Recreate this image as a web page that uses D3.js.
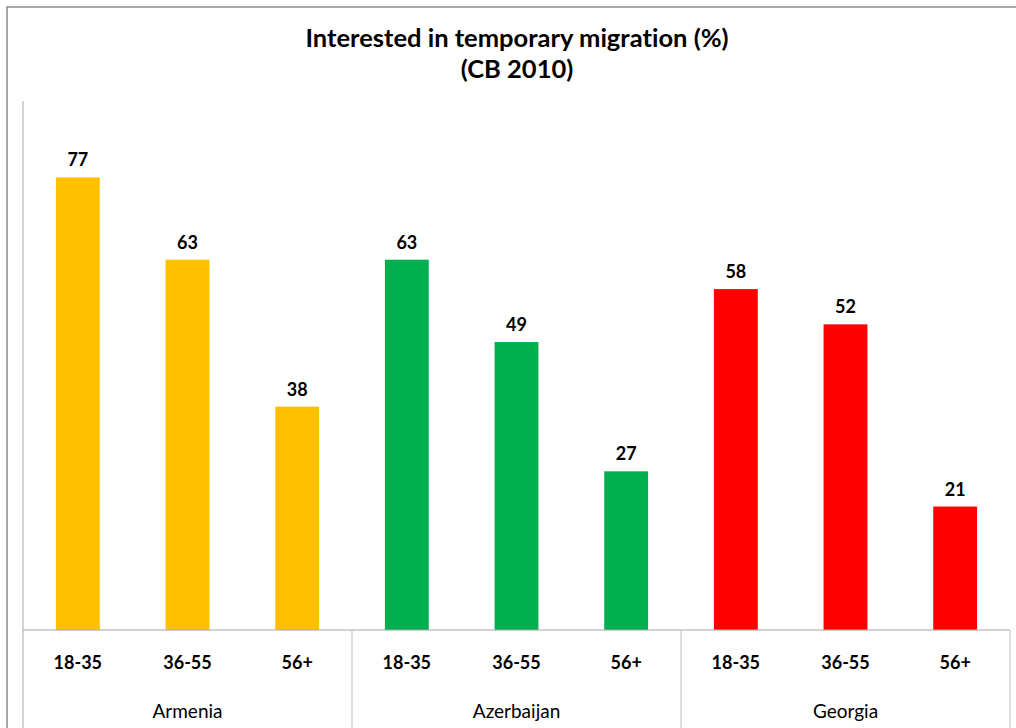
<!DOCTYPE html>
<html>
<head>
<meta charset="utf-8">
<script src="https://cdn.jsdelivr.net/npm/d3@7/dist/d3.min.js"></script>
<style>
  html, body { margin: 0; padding: 0; background: #fff; }
  svg { display: block; font-family: Lato, "Open Sans", sans-serif; font-variant-ligatures: none; }
</style>
</head>
<body>
<svg id="chart" width="1016" height="728"></svg>
<script>
// Countries, age groups and the share interested in temporary migration (%)
const countries = ["Armenia", "Azerbaijan", "Georgia"];
const ageGroups = ["18-35", "36-55", "56+"];
const armenia = [77, 63, 38];
const azerbaijan = [63, 49, 27];
const georgia = [58, 52, 21];
const countryColors = ["#FFC000", "#00B050", "#FF0000"];
const titleLines = ["Interested in temporary migration (%)", "(CB 2010)"];

const seriesByCountry = [armenia, azerbaijan, georgia];
const rows = [];
countries.forEach((c, ci) => {
  ageGroups.forEach((a, ai) => {
    rows.push({ key: c + "|" + a, country: c, age: a, value: seriesByCountry[ci][ai], color: countryColors[ci] });
  });
});

const svg = d3.select("#chart");
const W = 1016, H = 728;
const plot = { left: 23, right: 1010, top: 101, bottom: 630 };

// outer chart frame
svg.append("rect")
  .attr("x", 7).attr("y", 7)
  .attr("width", W + 10).attr("height", H + 10)
  .attr("fill", "none").attr("stroke", "#8c8c8c").attr("stroke-width", 1.5);

// title
svg.append("g").selectAll("text").data(titleLines).join("text")
  .attr("x", 517).attr("y", (d, i) => 47 + i * 31)
  .attr("text-anchor", "middle")
  .attr("font-size", 25.5).attr("font-weight", "bold").attr("fill", "#000")
  .text(d => d);

const x = d3.scaleBand()
  .domain(rows.map(d => d.key))
  .range([plot.left, plot.right])
  .paddingInner(0.6).paddingOuter(0.3);

const y = d3.scaleLinear().domain([0, 90]).range([plot.bottom, plot.top]);

// bars
svg.append("g").selectAll("rect").data(rows).join("rect")
  .attr("x", d => x(d.key))
  .attr("y", d => y(d.value))
  .attr("width", x.bandwidth())
  .attr("height", d => y(0) - y(d.value))
  .attr("fill", d => d.color);

// value labels
svg.append("g").selectAll("text").data(rows).join("text")
  .attr("x", d => x(d.key) + x.bandwidth() / 2)
  .attr("y", d => y(d.value) - 11)
  .attr("text-anchor", "middle")
  .attr("font-size", 18).attr("font-weight", "bold").attr("fill", "#000")
  .text(d => d.value);

// vertical axis line
svg.append("line")
  .attr("x1", plot.left).attr("x2", plot.left)
  .attr("y1", y.range()[1]).attr("y2", H)
  .attr("stroke", "#a6a6a6").attr("stroke-width", 1);

// category axis baseline
svg.append("line")
  .attr("x1", plot.left).attr("x2", plot.right)
  .attr("y1", plot.bottom).attr("y2", plot.bottom)
  .attr("stroke", "#a6a6a6").attr("stroke-width", 1);

// group separators below the axis
const groupEdges = countries.map((c, i) => plot.left + (i + 1) * (plot.right - plot.left) / countries.length);
svg.append("g").selectAll("line").data(groupEdges).join("line")
  .attr("x1", d => d).attr("x2", d => d)
  .attr("y1", plot.bottom).attr("y2", H)
  .attr("stroke", "#bfbfbf").attr("stroke-width", 1);

// age group tick labels
svg.append("g").selectAll("text").data(rows).join("text")
  .attr("x", d => x(d.key) + x.bandwidth() / 2)
  .attr("y", 669)
  .attr("text-anchor", "middle")
  .attr("font-size", 18).attr("font-weight", "bold").attr("fill", "#000")
  .text(d => d.age);

// country labels
svg.append("g").selectAll("text").data(countries).join("text")
  .attr("x", (d, i) => plot.left + (i + 0.5) * (plot.right - plot.left) / countries.length)
  .attr("y", 718)
  .attr("text-anchor", "middle")
  .attr("font-size", 19).attr("font-weight", "normal").attr("fill", "#000")
  .text(d => d);
</script>
</body>
</html>
